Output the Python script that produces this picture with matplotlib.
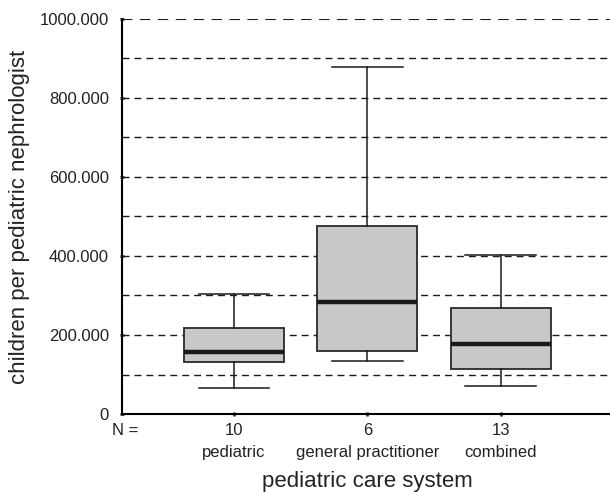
import matplotlib
matplotlib.use("Agg")
import matplotlib.pyplot as plt
from matplotlib.ticker import FuncFormatter, MultipleLocator

plt.rcParams['font.family'] = ['Liberation Sans', 'DejaVu Sans']

# --- Daten (in Tausend) ---
groups = ["pediatric", "general practitioner", "combined"]
n_counts = [10, 6, 13]
whisk_lo = [66, 135, 72]
q1 = [132, 160, 114]
median = [158, 284, 178]
q3 = [218, 477, 269]
whisk_hi = [305, 879, 403]

stats = []
for i in range(len(groups)):
    stats.append(dict(whislo=whisk_lo[i], q1=q1[i], med=median[i],
                      q3=q3[i], whishi=whisk_hi[i], fliers=[]))

fig = plt.figure(figsize=(6.1, 4.92), dpi=100)
ax = fig.add_axes([0.2, 0.1585, 0.8, 0.803])

pos = [1, 2, 3]
ax.bxp(stats, positions=pos, widths=0.75, patch_artist=True, showfliers=False,
       boxprops=dict(facecolor='#c8c8c8', edgecolor='#2a2a2a', linewidth=1.3),
       medianprops=dict(color='#1a1a1a', linewidth=3.2),
       whiskerprops=dict(color='#1a1a1a', linewidth=1.1),
       capprops=dict(color='#1a1a1a', linewidth=1.1),
       capwidths=0.53, zorder=3)

# gestrichelte Hilfslinien
for yv in range(100, 1001, 100):
    lw = 1.5 if yv == 1000 else 1.0
    ax.axhline(yv, color='#1a1a1a', lw=lw, ls=(0, (5, 3.6)), zorder=1)

ax.set_xlim(0.16, 3.82)
ax.set_ylim(0, 1000)
ax.yaxis.set_major_locator(MultipleLocator(200))
ax.yaxis.set_major_formatter(FuncFormatter(lambda v, p: "0" if v == 0 else f"{int(v)}.000"))
ax.set_xticks(pos)
ax.set_xticklabels([])

for s in ['top', 'right']:
    ax.spines[s].set_visible(False)
ax.spines['left'].set_linewidth(1.5)
ax.spines['bottom'].set_linewidth(1.5)
ax.tick_params(axis='both', direction='inout', length=3, width=2, color='#333333',
               labelsize=12, labelcolor='#222222', pad=3)
ax.tick_params(axis='y', pad=8)

# N = und Gruppennamen
ax.text(-0.02, -0.042, "N =", transform=ax.transAxes, fontsize=12, va='center',
        ha='left', color='#222222')
for p, n, g in zip(pos, n_counts, groups):
    ax.text(p, -0.042, str(n), transform=ax.get_xaxis_transform(), fontsize=12,
            ha='center', va='center', color='#222222')
    ax.text(p, -0.098, g, transform=ax.get_xaxis_transform(), fontsize=12,
            ha='center', va='center', color='#222222')

ax.text(2, -0.17, "pediatric care system", transform=ax.get_xaxis_transform(),
        fontsize=16, ha='center', va='center', color='#222222')
ax.set_ylabel("children per pediatric nephrologist", fontsize=16, labelpad=7,
              color='#222222')

fig.savefig("out.png", dpi=100)
